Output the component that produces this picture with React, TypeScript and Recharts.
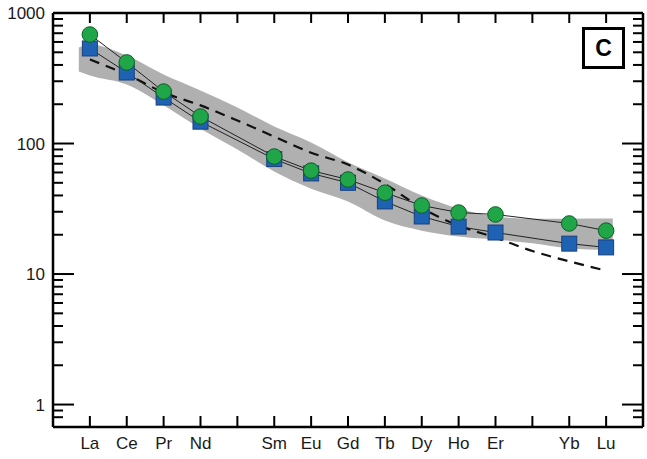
import React from "react"
import { ComposedChart, Area, Line, XAxis, YAxis } from "recharts"

// chondrite-normalised REE pattern, panel c
const elements = ["La", "Ce", "Pr", "Nd", "Pm", "Sm", "Eu", "Gd", "Tb", "Dy", "Ho", "Er", "Tm", "Yb", "Lu"]
const tickLabels = ["La", "Ce", "Pr", "Nd", "", "Sm", "Eu", "Gd", "Tb", "Dy", "Ho", "Er", "", "Yb", "Lu"]

const greenSample = [684, 418, 250, 161, null, 79.5, 62, 53, 42, 33.5, 29.6, 28.6, null, 24.4, 21.5]
const blueSample = [535, 350, 225, 147, null, 76, 59, 50, 36, 27.6, 23.1, 20.8, null, 17.1, 16.0]
const dashedRef = [440, 338, 246, 196, 150, 113, 85, 69, 49, 32, 23.5, 19, 15, 12.5, 10.6]

// grey field, sampled a little past La and Lu
const bandPos = [0.7, 1, 2, 3, 4, 5, 6, 7, 8, 9, 10, 11, 12, 13, 14, 15, 15.18]
const bandHigh = [544, 574, 472, 338, 255, 189, 135, 102, 72, 54, 40, 31.8, 27.6, 26.5, 26.5, 26.6, 26.6]
const bandLow = [356, 332, 283, 196, 130, 90, 61, 45, 36, 25.7, 21.5, 19.4, 18.4, 17.2, 15.7, 15.2, 14.9]

const yDomain = [0.673, 1000]
const yMajor = [1, 10, 100, 1000]
const yTicks = [0.8, 0.9, 1, 2, 3, 4, 5, 6, 7, 8, 9, 10, 20, 30, 40, 50, 60, 70, 80, 90, 100, 200, 300, 400, 500, 600, 700, 800, 900, 1000]
const xTicks = elements.map((_, i) => i + 1)

const data = bandPos.map((x, i) => {
  const k = Number.isInteger(x) ? x - 1 : -1
  return {
    x,
    band: [bandLow[i], bandHigh[i]],
    green: k >= 0 ? greenSample[k] : null,
    blue: k >= 0 ? blueSample[k] : null,
    ref: k >= 0 ? dashedRef[k] : null,
  }
})

const FONT = "'Liberation Sans', Arial, sans-serif"
const AXIS = { stroke: "#000", strokeWidth: 2.5 }

function BottomTick({ x, y, payload }: any) {
  return (
    <g>
      <line x1={x} y1={y} x2={x} y2={y - 11} stroke="#000" strokeWidth={2} />
      <text x={x} y={y + 22} textAnchor="middle" fontSize={17} fill="#1a1a1a" fontFamily={FONT}>
        {tickLabels[payload.value - 1]}
      </text>
    </g>
  )
}

function TopTick({ x, y }: any) {
  return <line x1={x} y1={y} x2={x} y2={y + 10} stroke="#000" strokeWidth={2} />
}

function LeftTick({ x, y, payload }: any) {
  const major = yMajor.includes(payload.value)
  return (
    <g>
      <line x1={x} y1={y} x2={x + (major ? 21 : 10)} y2={y} stroke="#000" strokeWidth={2} />
      {major && (
        <text x={x - 8} y={y} dy="0.36em" textAnchor="end" fontSize={17} fill="#1a1a1a" fontFamily={FONT}>
          {payload.value}
        </text>
      )}
    </g>
  )
}

function RightTick({ x, y, payload }: any) {
  const major = yMajor.includes(payload.value)
  return <line x1={x} y1={y} x2={x - (major ? 21 : 10)} y2={y} stroke="#000" strokeWidth={2} />
}

function SquareDot({ cx, cy }: any) {
  if (cx == null || cy == null) return null
  return <rect x={cx - 7.5} y={cy - 7.5} width={15} height={15} fill="#1f62b3" stroke="#17407a" strokeWidth={1} />
}

function CircleDot({ cx, cy }: any) {
  if (cx == null || cy == null) return null
  return <circle cx={cx} cy={cy} r={7.8} fill="#20a548" stroke="#0c5e26" strokeWidth={1} />
}

export default function App() {
  return (
    <div style={{ position: "absolute", left: 0, top: 0, width: 647, height: 459, background: "#fff" }}>
      <ComposedChart width={647} height={459} data={data} margin={{ top: 12, right: 3, bottom: 31, left: 52 }}>
        <XAxis
          dataKey="x"
          type="number"
          domain={[0, 16]}
          ticks={xTicks}
          interval={0}
          allowDataOverflow
          height={1}
          tickSize={0}
          tickMargin={0}
          tickLine={false}
          axisLine={AXIS}
          tick={<BottomTick />}
        />
        <XAxis
          xAxisId="top"
          orientation="top"
          dataKey="x"
          type="number"
          domain={[0, 16]}
          ticks={xTicks}
          interval={0}
          allowDataOverflow
          height={1}
          tickSize={0}
          tickMargin={0}
          tickLine={false}
          axisLine={AXIS}
          tick={<TopTick />}
        />
        <YAxis
          scale="log"
          type="number"
          domain={yDomain}
          ticks={yTicks}
          interval={0}
          allowDataOverflow
          width={1}
          tickSize={0}
          tickMargin={0}
          tickLine={false}
          axisLine={AXIS}
          tick={<LeftTick />}
        />
        <YAxis
          yAxisId="right"
          orientation="right"
          scale="log"
          type="number"
          domain={yDomain}
          ticks={yTicks}
          interval={0}
          allowDataOverflow
          width={1}
          tickSize={0}
          tickMargin={0}
          tickLine={false}
          axisLine={AXIS}
          tick={<RightTick />}
        />
        <Area
          dataKey="band"
          type="monotone"
          stroke="none"
          fill="#b0b0b0"
          fillOpacity={1}
          isAnimationActive={false}
        />
        <Line
          dataKey="ref"
          type="monotone"
          stroke="#111"
          strokeWidth={2.2}
          strokeDasharray="10 7"
          dot={false}
          connectNulls
          isAnimationActive={false}
        />
        <Line
          dataKey="blue"
          stroke="#222"
          strokeWidth={1}
          dot={<SquareDot />}
          connectNulls
          isAnimationActive={false}
        />
        <Line
          dataKey="green"
          stroke="#222"
          strokeWidth={1}
          dot={<CircleDot />}
          connectNulls
          isAnimationActive={false}
        />
      </ComposedChart>
      <div
        style={{
          position: "absolute",
          left: 582,
          top: 27,
          width: 43,
          height: 42,
          boxSizing: "border-box",
          border: "3px solid #000",
          display: "flex",
          alignItems: "center",
          justifyContent: "center",
          fontFamily: FONT,
          fontWeight: "bold",
          fontSize: 23,
          background: "#fff",
        }}
      >
        C
      </div>
    </div>
  )
}
